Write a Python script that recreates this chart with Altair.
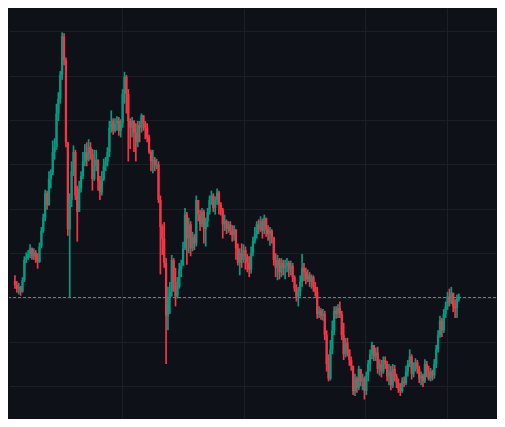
import altair as alt
import pandas as pd

# ---- data ----
first_open = 103.7
closes = [
    102.8, 102.0, 102.4, 101.3, 103.9, 108.5, 108.9, 109.8, 111.1, 109.3,
    110.2, 108.5, 108.0, 111.5, 115.0, 118.0, 123.5, 120.9, 126.7, 128.0,
    132.8, 133.9, 141.5, 144.8, 150.2, 158.9, 153.5, 135.0, 115.4, 122.0,
    128.5, 132.8, 123.0, 119.3, 124.6, 127.4, 130.7, 132.8, 131.1, 133.9,
    132.4, 126.7, 129.6, 131.1, 126.3, 123.7, 126.7, 129.6, 130.7, 132.8,
    138.3, 139.8, 137.6, 139.3, 139.8, 137.6, 139.3, 145.9, 149.8, 145.9,
    139.8, 138.3, 139.8, 137.2, 135.0, 138.9, 138.3, 141.1, 139.3, 138.3,
    136.1, 132.8, 130.7, 131.1, 129.6, 130.0, 122.0, 115.9, 113.3, 107.8,
    95.9, 100.2, 101.3, 108.5, 103.5, 100.2, 102.4, 106.3, 107.2, 111.1,
    118.7, 113.3, 116.5, 111.1, 113.7, 112.2, 122.0, 118.7, 116.5, 119.3,
    115.4, 117.2, 119.3, 122.0, 123.0, 120.2, 122.0, 123.7, 120.9, 119.8,
    116.5, 117.2, 115.4, 116.5, 115.0, 114.1, 115.4, 111.1, 107.8, 110.0,
    108.5, 110.7, 109.3, 107.8, 106.3, 110.0, 112.8, 114.3, 116.5, 115.4,
    117.2, 115.0, 118.0, 115.4, 114.3, 115.0, 113.7, 108.5, 106.7, 108.5,
    105.7, 107.8, 106.7, 107.2, 107.8, 106.3, 107.2, 104.6, 102.0, 100.2,
    101.3, 103.5, 106.7, 105.7, 104.1, 105.0, 103.5, 104.6, 102.4, 101.3,
    96.3, 97.0, 95.9, 96.3, 91.5, 85.0, 81.7, 88.3, 92.6, 97.0,
    96.3, 97.6, 96.3, 91.5, 87.2, 89.8, 88.3, 85.9, 84.6, 78.9,
    81.7, 79.6, 83.9, 81.1, 81.7, 78.9, 82.4, 85.0, 87.2, 89.3,
    86.7, 87.6, 83.9, 85.0, 83.3, 85.9, 85.0, 82.2, 83.3, 80.2,
    83.9, 82.2, 80.7, 79.3, 78.9, 81.1, 80.7, 83.3, 85.0, 86.7,
    82.8, 84.6, 85.4, 83.9, 81.7, 82.4, 81.1, 85.0, 83.3, 81.7,
    83.3, 82.4, 85.0, 88.3, 91.5, 94.8, 92.6, 96.3, 98.0, 100.2,
    98.9, 101.1, 98.0, 97.6, 99.8, 100.0,
]
highs = [
    105.0, 103.7, 103.3, 102.6, 104.6, 109.3, 110.2, 110.7, 112.0, 111.3,
    111.1, 110.7, 110.0, 112.4, 115.9, 118.9, 124.3, 124.1, 128.5, 128.9,
    135.4, 135.9, 143.7, 146.3, 151.1, 159.8, 159.6, 154.1, 135.0, 123.5,
    130.7, 134.3, 133.3, 125.2, 126.3, 128.5, 132.8, 134.6, 135.0, 135.7,
    135.0, 133.5, 133.3, 133.3, 131.1, 127.4, 128.5, 131.3, 131.7, 133.9,
    139.8, 142.2, 140.4, 140.4, 140.9, 140.7, 140.2, 147.0, 150.9, 150.2,
    147.0, 140.4, 140.7, 140.0, 139.3, 139.8, 139.8, 141.5, 141.1, 139.8,
    139.3, 136.7, 133.3, 133.3, 131.7, 131.3, 130.7, 123.0, 116.5, 117.0,
    108.9, 102.4, 103.5, 109.6, 108.9, 106.7, 104.6, 107.8, 108.5, 112.6,
    120.2, 119.3, 118.0, 117.2, 114.8, 114.3, 123.0, 120.9, 119.8, 120.2,
    119.8, 118.0, 120.2, 123.0, 124.1, 123.5, 122.8, 124.6, 124.1, 121.5,
    120.2, 118.7, 117.6, 117.2, 117.2, 116.3, 116.3, 114.1, 112.2, 111.1,
    112.2, 112.0, 111.5, 109.8, 109.3, 111.5, 113.7, 115.9, 117.2, 117.6,
    118.3, 117.8, 118.7, 117.6, 116.3, 115.9, 115.4, 113.3, 110.0, 109.6,
    108.9, 108.9, 108.5, 108.5, 108.9, 108.3, 108.3, 107.8, 105.0, 103.0,
    102.4, 105.0, 109.8, 107.8, 106.7, 106.3, 105.7, 105.2, 105.0, 103.5,
    102.4, 98.0, 97.6, 97.4, 97.0, 92.6, 87.2, 90.4, 94.8, 98.0,
    98.0, 98.5, 99.1, 97.0, 94.3, 90.9, 90.9, 88.3, 86.7, 84.6,
    82.8, 82.2, 84.6, 83.9, 82.8, 82.2, 83.3, 85.9, 88.3, 90.0,
    89.3, 88.7, 88.9, 86.1, 85.9, 86.7, 86.7, 85.7, 85.0, 84.6,
    85.0, 84.8, 82.8, 81.7, 80.7, 82.0, 82.2, 84.6, 85.9, 88.3,
    87.2, 85.4, 86.3, 85.9, 84.6, 83.3, 82.8, 86.1, 85.7, 84.6,
    84.1, 83.7, 86.1, 89.3, 92.6, 95.9, 95.4, 97.4, 99.1, 101.3,
    102.0, 102.4, 100.7, 99.6, 100.7, 100.9,
]
lows = [
    102.0, 101.1, 100.7, 100.4, 101.1, 103.5, 107.8, 108.5, 108.9, 108.5,
    108.5, 107.8, 106.5, 107.8, 111.1, 114.6, 117.2, 119.8, 120.7, 124.6,
    127.6, 131.1, 133.3, 139.8, 143.7, 149.1, 152.4, 133.9, 113.9, 100.0,
    120.4, 127.4, 122.0, 112.6, 120.9, 123.7, 126.7, 129.6, 129.6, 130.7,
    131.1, 124.1, 126.3, 128.5, 124.1, 122.0, 123.0, 126.3, 128.5, 129.6,
    131.7, 137.2, 136.7, 137.2, 137.6, 136.5, 136.1, 138.3, 143.7, 141.5,
    130.7, 133.5, 136.1, 132.8, 130.7, 133.9, 135.0, 137.2, 137.6, 135.7,
    135.0, 132.4, 128.5, 128.0, 128.5, 128.9, 121.3, 105.2, 109.6, 106.7,
    85.0, 92.6, 96.3, 100.2, 101.3, 98.0, 99.8, 102.0, 104.6, 107.2,
    110.7, 107.4, 110.0, 109.3, 110.4, 110.7, 111.5, 117.2, 115.0, 115.9,
    112.2, 111.5, 115.9, 118.7, 120.9, 119.3, 118.7, 120.9, 118.7, 118.5,
    113.3, 115.0, 114.3, 114.6, 114.1, 112.6, 112.8, 108.5, 107.2, 105.0,
    106.7, 107.8, 106.3, 105.7, 104.6, 105.4, 109.3, 112.2, 113.3, 114.3,
    114.8, 113.3, 114.3, 113.7, 112.8, 111.7, 112.2, 107.2, 104.6, 103.9,
    104.1, 104.6, 105.0, 104.1, 105.7, 104.6, 105.0, 103.5, 101.3, 99.1,
    98.0, 100.2, 102.4, 103.7, 103.0, 103.5, 102.4, 102.0, 101.3, 100.2,
    95.2, 95.4, 95.0, 94.8, 90.4, 83.3, 81.1, 81.3, 87.2, 91.5,
    95.2, 95.4, 95.4, 90.4, 85.9, 86.5, 86.7, 84.6, 83.5, 78.0,
    77.8, 78.5, 79.1, 80.0, 79.1, 77.0, 78.0, 81.1, 83.3, 86.1,
    85.7, 85.7, 82.8, 82.4, 82.0, 82.8, 83.9, 81.1, 80.2, 79.1,
    79.6, 81.1, 79.6, 78.5, 77.8, 78.5, 79.8, 80.2, 82.2, 84.3,
    81.5, 82.0, 83.3, 82.8, 80.7, 80.2, 79.8, 80.7, 82.0, 81.3,
    81.1, 81.3, 81.7, 84.1, 87.6, 90.9, 91.1, 92.0, 95.4, 97.2,
    98.0, 98.5, 96.7, 95.4, 95.4, 99.1,
]
price_grid = [80, 90, 100, 110, 120, 130, 140, 150, 160]
time_grid = [56.5, 121.5, 185.5, 228.5]

assert len(closes) == len(highs) == len(lows)
n = len(closes)
opens = [first_open] + closes[:-1]

df = pd.DataFrame({
    "i": list(range(n)),
    "open": opens,
    "close": closes,
    "high": highs,
    "low": lows,
})
df["dir"] = ["up" if c >= o else "down" for o, c in zip(df["open"], df["close"])]

BG = "#0e1117"
GRID = "#1c1f26"
UP = "#089981"
DOWN = "#f23645"

color = alt.Color("dir:N", scale=alt.Scale(domain=["up", "down"], range=[UP, DOWN]), legend=None)

x = alt.X(
    "i:Q",
    scale=alt.Scale(domain=[-0.5, 252], nice=False, zero=False),
    axis=alt.Axis(values=time_grid, labels=False, ticks=False, domain=False, title=None,
                  grid=True, gridColor=GRID, gridWidth=1),
)
y_axis = alt.Axis(values=price_grid, labels=False, ticks=False, domain=False, title=None,
                  grid=True, gridColor=GRID, gridWidth=1)
y_scale = alt.Scale(domain=[72.6, 165.29], nice=False, zero=False)

base = alt.Chart(df)

wicks = base.mark_rule(strokeWidth=1.7).encode(
    x=x,
    y=alt.Y("low:Q", scale=y_scale, axis=y_axis),
    y2="high:Q",
    color=color,
)
bodies = base.mark_bar(size=2.3).encode(
    x=x,
    y=alt.Y("open:Q", scale=y_scale, axis=y_axis),
    y2="close:Q",
    color=color,
)

last = df.tail(1)
price_line = alt.Chart(last).mark_rule(strokeDash=[3, 2], strokeWidth=1, color="#1aa58c").encode(
    y=alt.Y("close:Q", scale=y_scale, axis=y_axis),
)

chart = (
    alt.layer(wicks, bodies, price_line)
    .properties(
        width=489,
        height=411,
        padding=0,
        background=BG,
        autosize=alt.AutoSizeParams(type="fit", contains="padding"),
    )
    .configure_view(strokeWidth=0, fill=BG)
)

chart.save("out.html", embed_options={"renderer": "svg", "actions": False})
